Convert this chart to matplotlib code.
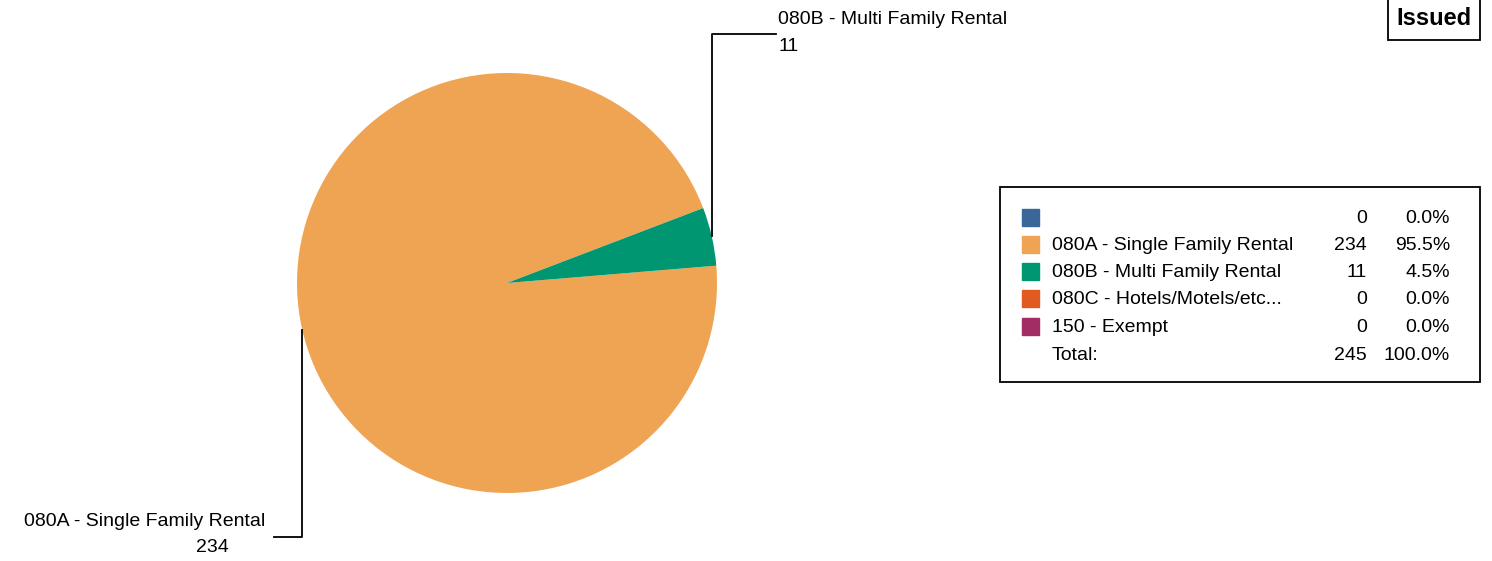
import numpy as np
import matplotlib.pyplot as plt
from matplotlib.patches import Rectangle

plt.rcParams['font.family'] = ['Liberation Sans', 'DejaVu Sans']

# data
categories = ['', '080A - Single Family Rental', '080B - Multi Family Rental',
              '080C - Hotels/Motels/etc...', '150 - Exempt']
counts = [0, 234, 11, 0, 0]
colors = ['#3A6699', '#EFA453', '#009672', '#E05A22', '#A22D64']
title = 'Issued'

W, H = 1492, 561
fig = plt.figure(figsize=(W / 100, H / 100), dpi=100)

# pie axes: centre (507, 283) px, radius 210 px
cx, cy, r = 507, 283, 210
ax = fig.add_axes([(cx - r) / W, (H - cy - r) / H, 2 * r / W, 2 * r / H])
wedges, _ = ax.pie(counts, colors=colors, startangle=20.9, counterclock=True,
                   radius=1.0)
ax.set_xlim(-1, 1)
ax.set_ylim(-1, 1)
ax.set_aspect('equal')
ax.axis('off')

# overlay in pixel coordinates
ov = fig.add_axes([0, 0, 1, 1], zorder=5)
ov.set_xlim(0, W)
ov.set_ylim(H, 0)
ov.axis('off')
ov.patch.set_alpha(0)

fs = 14


def anchor(w):
    mid = np.deg2rad((w.theta1 + w.theta2) / 2)
    return cx + r * np.cos(mid), cy - r * np.sin(mid)


# leader for 080B
x0, y0 = anchor(wedges[2])
ov.plot([x0, x0, 776], [y0, 34, 34], color='black', lw=1.3)
ov.text(778, 19, categories[2], fontsize=fs, va='center', ha='left')
ov.text(778, 46, str(counts[2]), fontsize=fs, va='center', ha='left')

# leader for 080A
x1, y1 = anchor(wedges[1])
ov.plot([x1, x1, 274], [y1, 537, 537], color='black', lw=1.3)
ov.text(265, 522, categories[1], fontsize=fs, va='center', ha='right')
ov.text(229, 548, str(counts[1]), fontsize=fs, va='center', ha='right')

# legend box
ov.add_patch(Rectangle((1000, 187), 480, 195, fill=False, ec='black', lw=1.3))
total = sum(counts)
row_y = [218, 245, 272, 299, 327]
for cat, n, col, y in zip(categories, counts, colors, row_y):
    ov.add_patch(Rectangle((1022, y - 9), 17, 17, color=col))
    ov.text(1052, y, cat, fontsize=fs, va='center', ha='left')
    ov.text(1367, y, str(n), fontsize=fs, va='center', ha='right')
    ov.text(1450, y, f'{100 * n / total:.1f}%', fontsize=fs, va='center', ha='right')
ov.text(1052, 355, 'Total:', fontsize=fs, va='center', ha='left')
ov.text(1367, 355, str(total), fontsize=fs, va='center', ha='right')
ov.text(1450, 355, '100.0%', fontsize=fs, va='center', ha='right')

# title box
ov.add_patch(Rectangle((1388, -2), 92, 42, fill=False, ec='black', lw=1.3))
ov.text(1434, 18, title, fontsize=17, fontweight='bold', va='center', ha='center')

fig.savefig('out.png', dpi=100)
